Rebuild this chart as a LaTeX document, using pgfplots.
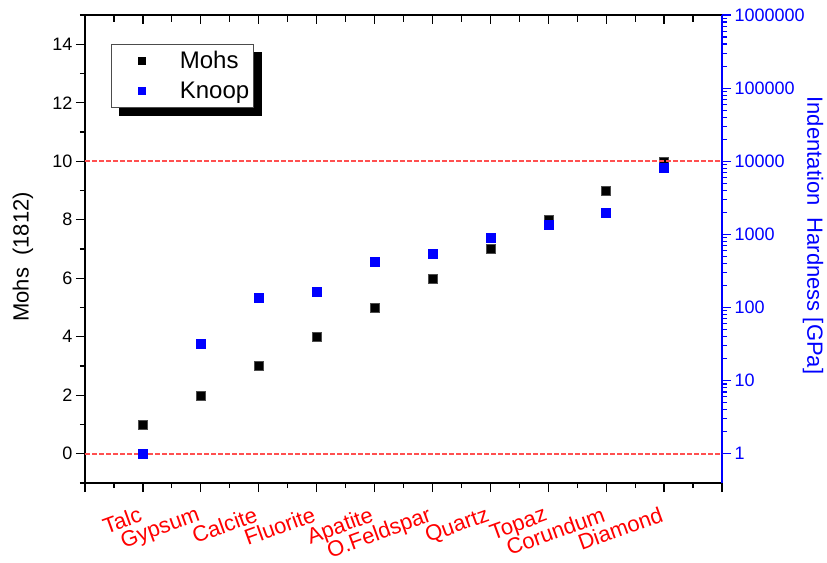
\documentclass[border=0pt]{standalone}
\usepackage{pgfplots}
\pgfplotsset{compat=1.18}
\usepackage{fontspec}
\setmainfont{Liberation Sans}
\definecolor{myblue}{RGB}{0,0,255}
\definecolor{dashred}{RGB}{255,80,80}
\pgfdeclarelayer{background}
\pgfsetlayers{background,main}

\begin{document}
\begin{tikzpicture}
\pgfplotsset{
  every axis/.append style={
    scale only axis, width=637bp, height=468bp, xmin=0, xmax=11,
    /pgf/number format/assume math mode=true,
    major tick length=9bp, minor tick length=5bp,
    axis line style={line width=1.5bp},
    every tick/.style={line width=1.2bp},
    tick label style={font=\fontsize{18bp}{20bp}\selectfont},
    clip=false,
  }
}
% left axis (Mohs)
\begin{axis}[
  axis x line*=bottom, axis y line*=left, tick align=outside,
  ymin=-1, ymax=15, ytick={0,2,...,14}, minor ytick={-1,1,...,15},
  xtick={0,...,11},
  xticklabels={,Talc,Gypsum,Calcite,Fluorite,Apatite,O.Feldspar,Quartz,Topaz,Corundum,Diamond,},
  minor xtick={0.5,1.5,...,10.5},
  xticklabel style={rotate=20, anchor=north east, text=red, font=\fontsize{22bp}{24bp}\selectfont, yshift=-9bp, xshift=-7.5bp, inner sep=2bp},
  ylabel={Mohs\ \ (1812)},
  every axis y label/.style={at={(rel axis cs:-0.0973,0.483)}, anchor=center, rotate=90, font=\fontsize{22bp}{24bp}\selectfont},
]
\addplot[only marks, mark=square*, mark size=4.5bp, black, mark options={draw=black!70}] coordinates {
 (1,1) (2,2) (3,3) (4,4) (5,5) (6,6) (7,7) (8,8) (9,9) (10,10)};
\end{axis}
% top axis ticks
\begin{axis}[
  axis x line*=top, axis y line=none, tick align=inside,
  ymin=0, ymax=1,
  xtick={0,...,11}, xticklabels={}, minor xtick={0.5,1.5,...,10.5},
  minor tick length=7bp,
]
\end{axis}
% right axis (Knoop, log)
\begin{axis}[
  axis x line=none, axis y line*=right, tick align=outside,
  ymode=log, ymin=0.398, ymax=1000000,
  ytick={1,10,100,1000,10000,100000,1000000},
  yticklabels={1,10,100,1000,10000,100000,1000000},
  y axis line style={myblue, line width=2bp},
  y tick style={myblue},
  yticklabel style={text=myblue},
  ylabel={Indentation\ \ Hardness [GPa]},
  every axis y label/.style={at={(rel axis cs:1.1429,0.529)}, anchor=center, rotate=-90, text=myblue, font=\fontsize{22bp}{24bp}\selectfont},
  legend style={at={(rel axis cs:0.0408,0.938)}, anchor=north west, name=leg,
    font=\fontsize{24bp}{26bp}\selectfont, draw=gray!60!black, line width=0.8bp, fill=white,
    inner xsep=2.5bp, inner ysep=5bp, row sep=8bp},
  legend cell align=left,
  legend image code/.code={\path[draw=none, fill=none] (0bp,-6bp) rectangle (64bp,6bp); \draw[#1, mark size=3.5bp] plot coordinates {(28.5bp,0bp)};},
]
\addlegendimage{only marks, mark=square*, black}
\addlegendentry{Mohs}
\addplot[color=dashred, solid, line width=1.6bp, dash pattern=on 4.5bp off 2.5bp, mark=none, forget plot] coordinates {(0,1) (11,1)};
\addplot[color=dashred, solid, line width=1.6bp, dash pattern=on 4.5bp off 2.5bp, mark=none, forget plot] coordinates {(0,10000) (11,10000)};
\addplot[only marks, mark=square*, mark size=4.5bp, myblue] coordinates {
 (1,1) (2,32) (3,134) (4,162) (5,425) (6,550) (7,890) (8,1340) (9,2000) (10,8200)};
\addlegendentry{Knoop}
\end{axis}
\begin{pgfonlayer}{background}
\fill[black] ([xshift=8bp,yshift=-8bp]leg.south west) rectangle ([xshift=8bp,yshift=-8bp]leg.north east);
\end{pgfonlayer}
\pgfresetboundingbox
\path[use as bounding box] (-85bp,-80bp) rectangle (742bp,483bp);
\end{tikzpicture}
\end{document}
